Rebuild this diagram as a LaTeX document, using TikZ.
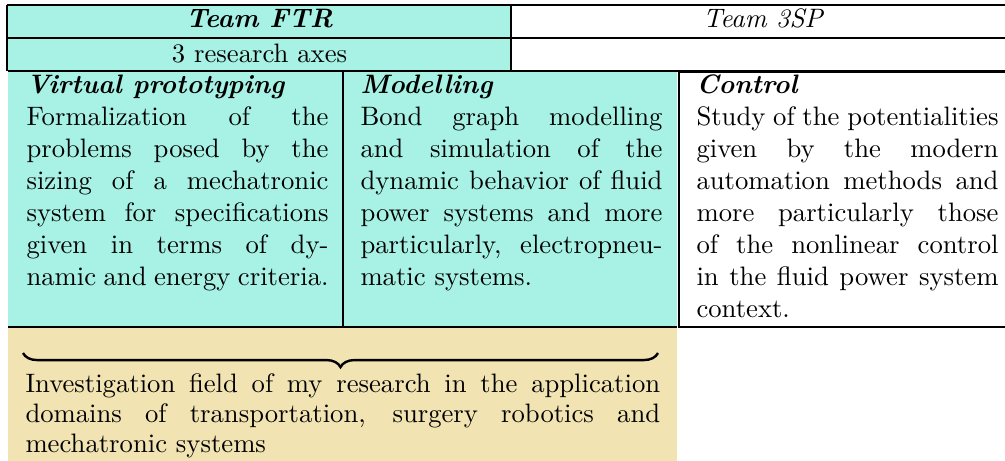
\documentclass[tikz,border=0pt]{standalone}
\usetikzlibrary{decorations.pathreplacing}
\definecolor{ftrcyan}{RGB}{167,241,229}
\definecolor{fieldbeige}{RGB}{241,228,178}
\newcommand\axishead[1]{{\bfseries\itshape #1}}
\begin{document}
\begin{tikzpicture}[x=0.375pt,y=-0.375pt,
  thickrule/.style={line width=1pt},
  thinrule/.style={line width=0.4pt},
  coltext/.style={anchor=base west,inner sep=0pt,text width=113.25pt,align=justify,font=\fontsize{10}{12}\selectfont},
  fieldtext/.style={anchor=base west,inner sep=0pt,text width=238pt,align=justify,font=\fontsize{10}{11.25}\selectfont},
  headtext/.style={anchor=base,inner sep=0pt,font=\fontsize{10}{12}\selectfont},
  fieldbrace/.style={decorate,decoration={brace,mirror,amplitude=5.3pt},line width=0.9pt}]
\useasboundingbox (0,0) rectangle (1005,461);
% backgrounds
\fill[ftrcyan] (8,5) rectangle (511,71);
\fill[ftrcyan] (8,71) rectangle (677,327);
\fill[fieldbeige] (8,327) rectangle (677,461);
% thin rules
\draw[thinrule] (8,71) -- (677,71);
\draw[thinrule] (343,71) -- (343,327);
\draw[thinrule] (8,327) -- (677,327);
% thick rules
\draw[thickrule] (7,5) -- (1005,5);
\draw[thickrule] (7,38) -- (1005,38);
\draw[thickrule] (511,71) -- (1005,71);
\draw[thickrule] (7,4.5) -- (7,71);
\draw[thickrule] (511,5) -- (511,71);
\draw[thickrule] (1005,72) -- (679,72) -- (679,327) -- (1005,327);
% header texts
\node[headtext] (ftr) at (259.5,27) {\bfseries\itshape Team FTR};
\node[headtext] (tsp) at (763,27) {\itshape Team 3SP};
\node[headtext] (axes) at (259.5,62) {3 research axes};
% columns
\node[coltext] (vp) at (26,93) {\axishead{Virtual prototyping}\par
Formalization of the\linebreak problems posed by the\linebreak sizing of a mechatronic\linebreak system for specifications\linebreak given in terms of dy-\linebreak namic and energy criteria.};
\node[coltext] (mod) at (360,93) {\axishead{Modelling}\par
Bond graph modelling\linebreak and simulation of the\linebreak dynamic behavior of fluid\linebreak power systems and more\linebreak particularly, electropneu-\linebreak matic systems.};
\node[coltext] (ctl) at (696,93) {\axishead{Control}\par
Study of the potentialities\linebreak given by the modern\linebreak automation methods and\linebreak more particularly those\linebreak of the nonlinear control\linebreak in the fluid power system\linebreak context.};
% brace and field text
\coordinate (braceL) at (23,353);
\coordinate (braceR) at (658,353);
\draw[fieldbrace] (braceL) -- (braceR);
\node[fieldtext] (field) at (25,392) {Investigation field of my research in the application\linebreak domains of transportation, surgery robotics and\linebreak mechatronic systems};
\end{tikzpicture}
\end{document}
